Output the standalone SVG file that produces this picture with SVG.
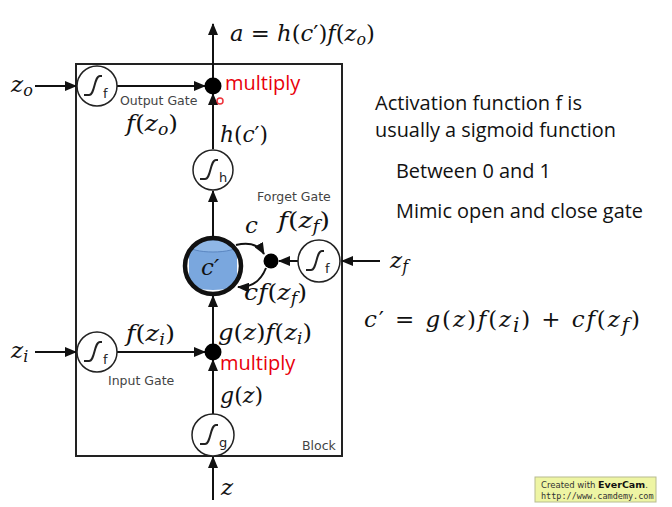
<svg xmlns="http://www.w3.org/2000/svg" width="672" height="507" viewBox="0 0 672 507">
<style>
.ar{stroke:#111;stroke-width:2;fill:none;marker-end:url(#ah)}
.gc{fill:#fff;stroke:#222;stroke-width:1.5}
.sg{fill:none;stroke:#222;stroke-width:2}
.sl{font-family:"DejaVu Sans","Liberation Sans",sans-serif;font-size:13px;fill:#222}
.gl{font-family:"DejaVu Sans","Liberation Sans",sans-serif;font-size:12.5px;fill:#444}
.m{font-family:"DejaVu Serif","Liberation Serif",serif;font-size:23px;fill:#111}
.i{font-style:italic}
.red{font-family:"Open Sans","Liberation Sans",sans-serif;font-size:20px;fill:#e8000b}
.tx{font-family:"Open Sans","Liberation Sans",sans-serif;font-size:19.5px;fill:#111}
.dot{fill:#000}
</style>
<defs>
<marker id="ah" markerWidth="12" markerHeight="10" refX="11" refY="5" orient="auto" markerUnits="userSpaceOnUse">
<path d="M0,0 L12,5 L0,10 Z" fill="#111"/>
</marker>
<g id="sig">
<path class="sg" d="M-13,9 H-8 C-2,9 -3,-10 3,-10 H5"/>
</g>
<clipPath id="cellclip"><circle cx="213" cy="266" r="28"/></clipPath>
</defs>

<g id="block">
<rect x="76" y="64" width="266" height="392" fill="none" stroke="#222" stroke-width="2"/>
<text class="gl" x="302" y="450" font-size="13">Block</text>
</g>

<g id="connectors">
<line class="ar" x1="213" y1="78" x2="213" y2="24"/>
<line class="ar" x1="35" y1="86" x2="76" y2="86"/>
<line class="ar" x1="117" y1="86" x2="205" y2="86"/>
<line class="ar" x1="213" y1="149" x2="213" y2="94"/>
<line class="ar" x1="213" y1="237" x2="213" y2="191"/>
<line class="ar" x1="380" y1="261" x2="342" y2="261"/>
<line class="ar" x1="298" y1="261" x2="279" y2="261"/>
<path class="ar" d="M236,245 Q256,240 264,254"/>
<path class="ar" d="M266,268 Q258,288 238,287"/>
<line class="ar" x1="35" y1="352" x2="76" y2="352"/>
<line class="ar" x1="117" y1="352" x2="205" y2="352"/>
<line class="ar" x1="213" y1="345" x2="213" y2="296"/>
<line class="ar" x1="213" y1="414" x2="213" y2="360"/>
<line class="ar" x1="213" y1="500" x2="213" y2="457"/>
</g>

<g id="output-gate">
<circle class="gc" cx="97" cy="86" r="20"/>
<use href="#sig" x="97" y="86"/>
<text class="sl" x="103" y="98">f</text>
<text class="gl" x="120" y="105">Output Gate</text>
</g>

<g id="output-multiply">
<circle class="dot" cx="213" cy="86" r="8.5"/>
<text class="red" x="225" y="90">multiply</text>
<circle cx="220" cy="101" r="3" fill="none" stroke="#e8000b" stroke-width="1.5" opacity="0.8"/>
</g>

<g id="h-node">
<circle class="gc" cx="213" cy="170" r="20"/>
<use href="#sig" x="213" y="170"/>
<text class="sl" x="219" y="182">h</text>
</g>

<g id="cell">
<g clip-path="url(#cellclip)">
<rect x="186" y="238" width="54" height="56" fill="#fff"/>
<path d="M189,246 V284 A24,6 0 0 0 237,284 V246 Z" fill="#7aa7de"/>
<ellipse cx="213" cy="246" rx="24" ry="6" fill="#8fb7e6" stroke="#5b86c0" stroke-width="1"/>
</g>
<circle cx="213" cy="266" r="28" fill="none" stroke="#111" stroke-width="4.5"/>
<text class="m i" x="201" y="275" font-size="23">c′</text>
</g>

<g id="forget-multiply">
<circle class="dot" cx="271" cy="261" r="7.5"/>
</g>

<g id="forget-gate">
<circle class="gc" cx="319" cy="261" r="21"/>
<use href="#sig" x="319" y="261"/>
<text class="sl" x="325" y="273">f</text>
<text class="gl" x="257" y="201">Forget Gate</text>
</g>

<g id="input-gate">
<circle class="gc" cx="97" cy="352" r="20"/>
<use href="#sig" x="97" y="352"/>
<text class="sl" x="103" y="364">f</text>
<text class="gl" x="108" y="385">Input Gate</text>
</g>

<g id="input-multiply">
<circle class="dot" cx="213" cy="352" r="8.5"/>
<text class="red" x="220" y="370">multiply</text>
</g>

<g id="g-node">
<circle class="gc" cx="213" cy="435" r="21"/>
<use href="#sig" x="213" y="435"/>
<text class="sl" x="219" y="447">g</text>
</g>

<g id="labels">
<text class="m" x="230" y="41" textLength="145" lengthAdjust="spacingAndGlyphs"><tspan class="i">a</tspan> = <tspan class="i">h</tspan>(<tspan class="i">c</tspan>′)<tspan class="i">f</tspan>(<tspan class="i">z<tspan font-size="16" dy="4">o</tspan></tspan><tspan dy="-4">)</tspan></text>
<text class="m" x="11" y="92"><tspan class="i">z<tspan font-size="16" dy="4">o</tspan></tspan></text>
<text class="m" x="126" y="131" textLength="52" lengthAdjust="spacingAndGlyphs"><tspan class="i">f</tspan>(<tspan class="i">z<tspan font-size="16" dy="4">o</tspan></tspan><tspan dy="-4">)</tspan></text>
<text class="m" x="220" y="142" textLength="48" lengthAdjust="spacingAndGlyphs"><tspan class="i">h</tspan>(<tspan class="i">c</tspan>′)</text>
<text class="m i" x="245" y="233">c</text>
<text class="m" x="278" y="228" textLength="52" lengthAdjust="spacingAndGlyphs"><tspan class="i">f</tspan>(<tspan class="i">z<tspan font-size="16" dy="4">f</tspan></tspan><tspan dy="-4">)</tspan></text>
<text class="m" x="244" y="300" textLength="63" lengthAdjust="spacingAndGlyphs"><tspan class="i">cf</tspan>(<tspan class="i">z<tspan font-size="16" dy="4">f</tspan></tspan><tspan dy="-4">)</tspan></text>
<text class="m" x="390" y="268"><tspan class="i">z<tspan font-size="16" dy="4">f</tspan></tspan></text>
<text class="m" x="11" y="358"><tspan class="i">z<tspan font-size="16" dy="4">i</tspan></tspan></text>
<text class="m" x="126" y="341" textLength="49" lengthAdjust="spacingAndGlyphs"><tspan class="i">f</tspan>(<tspan class="i">z<tspan font-size="16" dy="4">i</tspan></tspan><tspan dy="-4">)</tspan></text>
<text class="m" x="218" y="340" textLength="94" lengthAdjust="spacingAndGlyphs"><tspan class="i">g</tspan>(<tspan class="i">z</tspan>)<tspan class="i">f</tspan>(<tspan class="i">z<tspan font-size="16" dy="4">i</tspan></tspan><tspan dy="-4">)</tspan></text>
<text class="m" x="220" y="403" textLength="43" lengthAdjust="spacingAndGlyphs"><tspan class="i">g</tspan>(<tspan class="i">z</tspan>)</text>
<text class="m i" x="221" y="495">z</text>
</g>

<g id="notes">
<text class="tx" x="375" y="110" textLength="207" lengthAdjust="spacingAndGlyphs">Activation function f is</text>
<text class="tx" x="375" y="137" textLength="241" lengthAdjust="spacingAndGlyphs">usually a sigmoid function</text>
<text class="tx" x="396" y="178" textLength="155" lengthAdjust="spacingAndGlyphs">Between 0 and 1</text>
<text class="tx" x="396" y="218" textLength="247" lengthAdjust="spacingAndGlyphs">Mimic open and close gate</text>
<text class="m" x="364" y="327" font-size="29" textLength="276" lengthAdjust="spacing"><tspan class="i">c</tspan>′ = <tspan class="i">g</tspan>(<tspan class="i">z</tspan>)<tspan class="i">f</tspan>(<tspan class="i">z<tspan font-size="20" dy="5">i</tspan></tspan><tspan dy="-5">) + </tspan><tspan class="i">cf</tspan>(<tspan class="i">z<tspan font-size="20" dy="5">f</tspan></tspan><tspan dy="-5">)</tspan></text>
</g>

<g id="evercam">
<rect x="535" y="477" width="121" height="25" fill="#eef5a4" stroke="#b8bc90" stroke-width="1"/>
<text x="541" y="488" font-family="'DejaVu Sans',sans-serif" font-size="8.5" fill="#333">Created with <tspan font-weight="bold" font-size="9.5" fill="#111">EverCam</tspan>.</text>
<text x="541" y="498.5" font-family="'DejaVu Sans Mono','Liberation Mono',monospace" font-size="8.5" fill="#333">http://www.camdemy.com</text>
</g>
</svg>
